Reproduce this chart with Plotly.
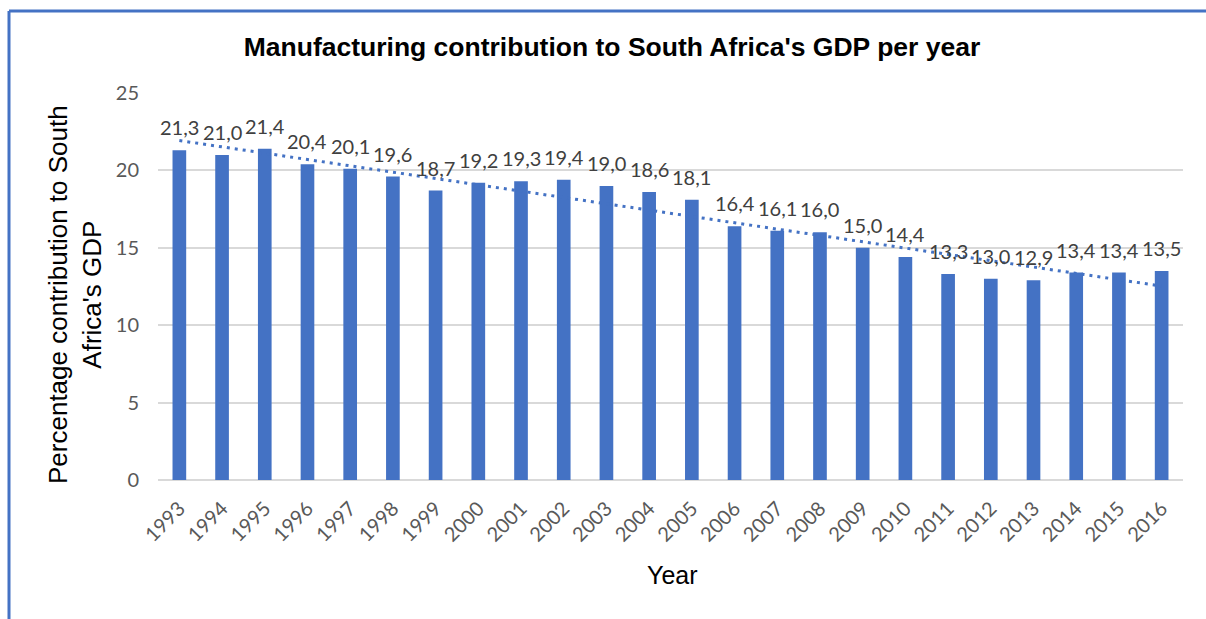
import numpy as np
import plotly.graph_objects as go

# Manufacturing share of South African GDP, by year (%)
years = [str(y) for y in range(1993, 2017)]
share = [21.3, 21.0, 21.4, 20.4, 20.1, 19.6, 18.7, 19.2, 19.3, 19.4, 19.0, 18.6,
         18.1, 16.4, 16.1, 16.0, 15.0, 14.4, 13.3, 13.0, 12.9, 13.4, 13.4, 13.5]
labels = [f"{v:.1f}".replace(".", ",") for v in share]

BLUE = "#4472C4"
GREY = "#595959"

# Linear trend through the yearly values
idx = np.arange(len(share))
slope, intercept = np.polyfit(idx, share, 1)
trend = slope * idx + intercept

W, H = 1206, 619
L, R, T, B = 158, 23, 93, 139
pw, ph = W - L - R, H - T - B


def px_x(x):
    return (x - L) / pw


def px_y(y):
    return (H - B - y) / ph


fig = go.Figure()
fig.add_trace(go.Bar(x=years, y=share, marker=dict(color=BLUE, line=dict(width=0)),
                     hoverinfo="x+y"))
fig.add_trace(go.Scatter(x=years, y=trend, mode="lines",
                         line=dict(color=BLUE, width=3, dash="3px,5px"),
                         hoverinfo="skip"))

# Value labels above each bar (category axis positions are given by index)
annotations = []
for i, (v, lab) in enumerate(zip(share, labels)):
    annotations.append(dict(x=i, y=v, text=lab, showarrow=False, yanchor="bottom",
                            yshift=9, font=dict(family="Lato", size=20, color="#404040")))

annotations.append(dict(xref="paper", yref="paper", x=px_x(75), y=px_y(295),
                        text="Percentage contribution to South<br>Africa's GDP",
                        textangle=-90, showarrow=False, xanchor="center", yanchor="middle",
                        font=dict(family="Liberation Sans", size=26, color="#000000")))
annotations.append(dict(xref="paper", yref="paper", x=px_x(672), y=px_y(575),
                        text="Year", showarrow=False, xanchor="center", yanchor="middle",
                        font=dict(family="Liberation Sans", size=25, color="#000000")))

shapes = [
    dict(type="line", xref="paper", yref="paper", x0=px_x(9), x1=px_x(W + 5),
         y0=px_y(11), y1=px_y(11), line=dict(color=BLUE, width=3)),
    dict(type="line", xref="paper", yref="paper", x0=px_x(9), x1=px_x(9),
         y0=px_y(11), y1=px_y(H + 5), line=dict(color=BLUE, width=3)),
]

fig.update_layout(
    width=W, height=H,
    margin=dict(l=L, r=R, t=T, b=B),
    plot_bgcolor="white", paper_bgcolor="white",
    showlegend=False,
    bargap=0.68,
    title=dict(text="<b>Manufacturing contribution to South Africa's GDP per year</b>",
               x=612 / W, xanchor="center", y=1 - 47 / H, yanchor="middle",
               font=dict(family="Liberation Sans", size=26.5, color="#000000")),
    xaxis=dict(type="category", range=[-0.5, len(years) - 0.5], tickangle=-45,
               tickfont=dict(family="Lato", size=20, color=GREY),
               showgrid=False, showline=False, ticks="", ticklabelstandoff=12),
    yaxis=dict(range=[0, 25], dtick=5, tickfont=dict(family="Lato", size=20, color=GREY),
               gridcolor="#D9D9D9", gridwidth=1.5, zeroline=True, zerolinecolor="#D9D9D9",
               zerolinewidth=1.5, showline=False, ticks="", ticklabelstandoff=18),
    annotations=annotations,
    shapes=shapes,
)

fig.write_html("out.html")
